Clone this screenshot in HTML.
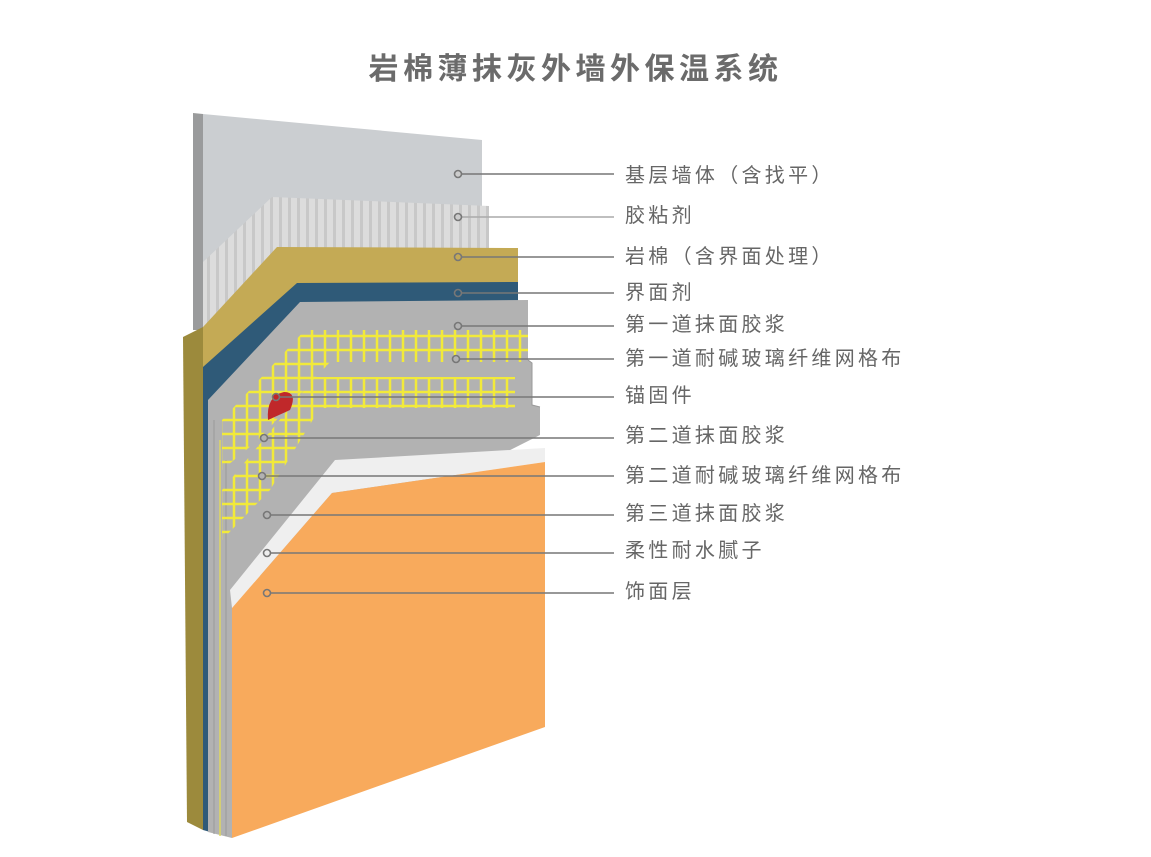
<!DOCTYPE html>
<html><head><meta charset="utf-8"><style>
body{margin:0;background:#fff;width:1151px;height:857px;overflow:hidden;font-family:"Liberation Sans","Noto Sans CJK SC",sans-serif}
.t{position:absolute;left:0;width:1151px;top:50px;text-align:center;font-size:30px;font-weight:bold;color:#6b6b6b;letter-spacing:4.5px;line-height:40px}
.l{position:absolute;left:625px;font-size:20px;color:#666;letter-spacing:3.3px;line-height:24px;white-space:nowrap}
svg{position:absolute;left:0;top:0}
</style></head><body>
<svg width="1151" height="857">
<defs>
<pattern id="mesh" width="13" height="14" patternUnits="userSpaceOnUse"><rect width="13" height="14" fill="none" stroke="#f2ea3a" stroke-width="2.5"/></pattern>
<pattern id="stripe" width="9" height="10" patternUnits="userSpaceOnUse"><rect width="9" height="10" fill="#dcdcdc"/><rect width="3" height="10" fill="#c8c8c8"/></pattern>
</defs>
<polygon points="193,113 203,114 203,330 193,330" fill="#9a9b9c"/>
<polygon points="203,114 482,140 482,260 203,330" fill="#cbced1"/>
<polygon points="203,262 272,197 489,206 489,250 203,340" fill="url(#stripe)"/>
<polygon points="183,337 203,327 203,830 187,822" fill="#9c8a3c"/>
<polygon points="203,327 277,247 518,248 518,300 203,380" fill="#c4aa55"/>
<polygon points="203,367 297,283 518,282 518,305 210,420 210,832 203,830" fill="#2f5a78"/>
<polygon points="208,400 300,302 528,300 528,360 532,363 532,405 540,407 540,435 232,590 232,838 208,832" fill="#b2b2b2"/>
<polyline points="528,360 532,363 532,405 540,407" fill="none" stroke="#999" stroke-width="1"/>
<line x1="214" y1="420" x2="214" y2="834" stroke="#999" stroke-width="1"/>
<line x1="220" y1="440" x2="220" y2="836" stroke="#e0d860" stroke-width="1.5"/>
<line x1="226" y1="460" x2="226" y2="836" stroke="#999" stroke-width="1"/>
<polygon points="305,330 528,330 528,362 330,362 258,440 222,470 222,420" fill="url(#mesh)"/>
<polygon points="315,377 515,377 515,408 320,408 270,490 222,540 222,490" fill="url(#mesh)"/>
<path d="M268,420 Q266,396 284,392 Q298,392 290,410 Z" fill="#c0282a"/>
<polygon points="230,590 335,460 545,448 545,462 332,493 232,608" fill="#efefef"/>
<polygon points="232,608 332,493 545,462 545,727 232,838" fill="#f8aa5c"/>
<g stroke="#777" stroke-width="1.6" fill="none">
<line x1="462" y1="174" x2="614" y2="174"/><circle cx="458" cy="174" r="3.5" fill="#ccc"/>
<line x1="462" y1="217" x2="614" y2="217" stroke="#aaa"/><circle cx="458" cy="217" r="3.5" fill="#ccc"/>
<line x1="462" y1="257" x2="614" y2="257"/><circle cx="458" cy="257" r="3.5" fill="#c4aa55"/>
<line x1="462" y1="293" x2="614" y2="293"/><circle cx="458" cy="293" r="3.5" fill="#2f5a78"/>
<line x1="462" y1="326" x2="614" y2="326"/><circle cx="458" cy="326" r="3.5" fill="#b2b2b2"/>
<line x1="460" y1="359" x2="614" y2="359"/><circle cx="456" cy="359" r="3.5" fill="#b2b2b2"/>
<line x1="280" y1="397" x2="614" y2="397"/><circle cx="276" cy="397" r="3.5" fill="#c0282a"/>
<line x1="268" y1="438" x2="614" y2="438"/><circle cx="264" cy="438" r="3.5" fill="#b2b2b2"/>
<line x1="266" y1="476" x2="614" y2="476"/><circle cx="262" cy="476" r="3.5" fill="#b2b2b2"/>
<line x1="271" y1="515" x2="614" y2="515"/><circle cx="267" cy="515" r="3.5" fill="#b2b2b2"/>
<line x1="271" y1="553" x2="614" y2="553"/><circle cx="267" cy="553" r="3.5" fill="#eee"/>
<line x1="271" y1="593" x2="614" y2="593"/><circle cx="267" cy="593" r="3.5" fill="#f8aa5c"/>
</g>
</svg>
<div class="t">岩棉薄抹灰外墙外保温系统</div>
<div class="l" style="top:164px">基层墙体（含找平）</div>
<div class="l" style="top:204px">胶粘剂</div>
<div class="l" style="top:245px">岩棉（含界面处理）</div>
<div class="l" style="top:281px">界面剂</div>
<div class="l" style="top:313px">第一道抹面胶浆</div>
<div class="l" style="top:347px">第一道耐碱玻璃纤维网格布</div>
<div class="l" style="top:384px">锚固件</div>
<div class="l" style="top:424px">第二道抹面胶浆</div>
<div class="l" style="top:464px">第二道耐碱玻璃纤维网格布</div>
<div class="l" style="top:502px">第三道抹面胶浆</div>
<div class="l" style="top:539px">柔性耐水腻子</div>
<div class="l" style="top:580px">饰面层</div>
</body></html>
